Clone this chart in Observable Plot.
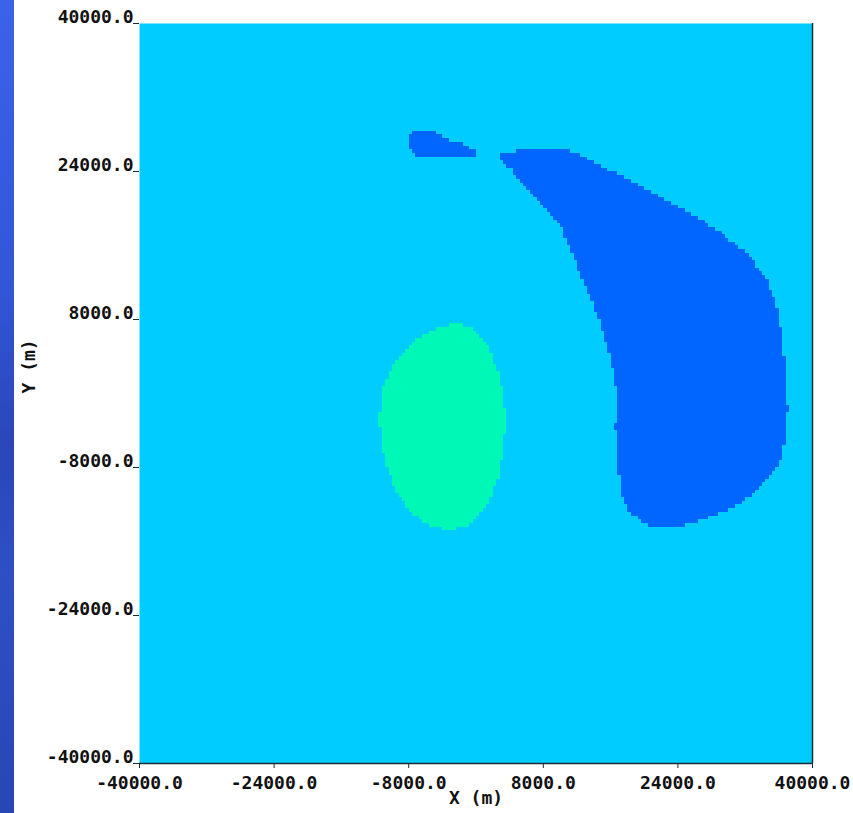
<!DOCTYPE html>
<html>
<head>
<meta charset="utf-8">
<script src="https://cdn.jsdelivr.net/npm/d3@7"></script>
<script src="https://cdn.jsdelivr.net/npm/@observablehq/plot@0.6"></script>
<style>
  html, body { margin: 0; padding: 0; background: #ffffff; }
  #page { position: relative; width: 853px; height: 813px; overflow: hidden; background: #ffffff; }
  #strip {
    position: absolute; left: 0; top: 0; width: 14px; height: 813px;
    background: linear-gradient(170deg, #3b62ea 0%, #3356d8 35%, #2a46b8 55%, #2f4fc6 70%, #2846b4 100%);
  }
  #chart { position: absolute; left: 0; top: 0; }
</style>
</head>
<body>
<div id="page">
  <div id="chart"></div>
  <div id="strip"></div>
</div>
<script>
// Axis ticks (metres)
const xTicks = [-40000, -24000, -8000, 8000, 24000, 40000];
const yTicks = [-40000, -24000, -8000, 8000, 24000, 40000];

// Zone classes and their colours
const zoneNames = ["background", "high", "low"];
const zoneColors = ["#00ccff", "#0066ff", "#00f8b6"];

// Outline of the large high zone (x, y in metres)
const highMain = [
  [2560, 25730], [4100, 26050], [6120, 26490], [10040, 26490], [11830, 26050],
  [13610, 25190], [18370, 23030], [24310, 20110], [28230, 17950], [32270, 15140],
  [34650, 12220], [35840, 9300], [36430, 5730], [36790, 2160], [37030, -1510],
  [36790, -5080], [36200, -7240], [35360, -8650], [33460, -10490], [30610, -12320],
  [26690, -13730], [23480, -14490], [20150, -14160], [18370, -12970], [17180, -10810],
  [16820, -6920], [16580, -3680], [16700, 320], [15990, 3890], [14800, 7570],
  [13250, 11140], [11590, 14700], [10040, 18160], [8500, 19780], [7310, 21080],
  [5650, 22700], [4100, 24320]
];

// Outline of the small high zone
const highSmall = [
  [-8020, 27780], [-7550, 28220], [-6600, 28430], [-5410, 28540], [-4810, 28220],
  [-3630, 27570], [-1840, 27030], [-60, 26380], [180, 25730], [-1840, 25510],
  [-5410, 25510], [-7310, 25840], [-7910, 26700]
];

// Outline of the low zone
const lowZone = [
  [-2200, 7570], [-60, 6810], [1370, 5190], [2560, 2490], [3270, -220],
  [3510, -2920], [3270, -6160], [2560, -9410], [1130, -12430], [-650, -14160],
  [-3030, -14810], [-5410, -14380], [-7790, -12870], [-9570, -10490], [-10760, -7460],
  [-11350, -4540], [-11470, -2380], [-11000, 870], [-9570, 3570], [-7190, 5730],
  [-4460, 7140]
];

function zoneAt(x, y) {
  const p = [x, y];
  if (d3.polygonContains(highMain, p) || d3.polygonContains(highSmall, p)) return "high";
  if (d3.polygonContains(lowZone, p)) return "low";
  return "background";
}

const fmt = d => d.toFixed(1);

const chart = Plot.plot({
  width: 853,
  height: 813,
  marginLeft: 139,
  marginRight: 41,
  marginTop: 23,
  marginBottom: 50,
  style: {
    fontFamily: "'DejaVu Sans Mono', monospace",
    fontWeight: "bold",
    fontSize: "18px",
    background: "transparent",
    color: "#111"
  },
  x: { domain: [-40000, 40000] },
  y: { domain: [-40000, 40000] },
  color: { type: "ordinal", domain: zoneNames, range: zoneColors },
  marks: [
    Plot.raster({
      x1: -40000, x2: 40000, y1: -40000, y2: 40000,
      width: 200, height: 200,
      fill: zoneAt,
      imageRendering: "pixelated"
    }),
    Plot.ruleY([-40000], { stroke: "#1d2d38", strokeWidth: 1.5 }),
    Plot.ruleX([40000], { stroke: "#1d2d38", strokeWidth: 1.5 }),
    Plot.axisX({
      ticks: xTicks, tickFormat: fmt, tickSize: 5, tickPadding: 8,
      label: null, stroke: "#1d2d38"
    }),
    // y tick marks only; their labels sit just above each tick
    Plot.axisY({
      ticks: yTicks, tickFormat: () => "", tickSize: 6, tickPadding: 0,
      label: null, stroke: "#1d2d38"
    }),
    Plot.text(yTicks, {
      x: -40000, y: d => d, text: fmt,
      textAnchor: "end", dx: -6, dy: -6, fontSize: 18, fill: "#111"
    }),
    Plot.text(["X (m)"], { frameAnchor: "bottom", dy: 40, fontSize: 18, fill: "#111" }),
    Plot.text(["Y (m)"], { frameAnchor: "left", dx: -110, rotate: -90, fontSize: 18, fill: "#111" })
  ]
});

document.getElementById("chart").appendChild(chart);
</script>
</body>
</html>
